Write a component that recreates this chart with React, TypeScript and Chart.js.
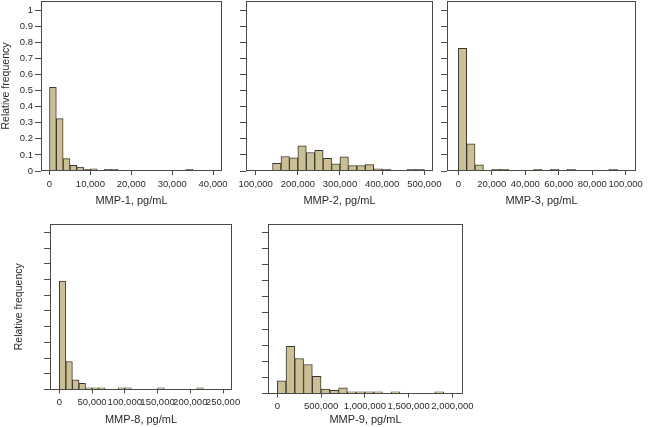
import React, { useEffect, useRef } from "react";
import { Chart, registerables } from "chart.js";

Chart.register(...registerables);

// ---------------- data ----------------
// MMP-1: bin width 10,000 / 6
const mmp1BinStarts = [0, 1666.67, 3333.33, 5000, 6666.67, 8333.33, 10000, 11666.67, 13333.33, 15000, 16666.67, 18333.33, 20000, 21666.67, 23333.33, 25000, 26666.67, 28333.33, 30000, 31666.67, 33333.33];
const mmp1Freq = [0.52, 0.325, 0.077, 0.035, 0.024, 0.006, 0.014, null, 0.005, 0.005, null, null, null, null, null, null, null, null, null, null, 0.005];
const mmp1XTicks = [0, 10000, 20000, 30000, 40000];

// MMP-2: bin width 20,000
const mmp2BinStarts = [140000, 160000, 180000, 200000, 220000, 240000, 260000, 280000, 300000, 320000, 340000, 360000, 380000, 400000, 420000, 440000, 460000, 480000];
const mmp2Freq = [0.047, 0.09, 0.082, 0.157, 0.115, 0.129, 0.078, 0.045, 0.088, 0.034, 0.034, 0.04, 0.013, 0.007, null, null, 0.004, 0.004];
const mmp2XTicks = [100000, 200000, 300000, 400000, 500000];

// MMP-3: bin width 5,000
const mmp3BinStarts = [0, 5000, 10000, 15000, 20000, 25000, 30000, 35000, 40000, 45000, 50000, 55000, 60000, 65000, 70000, 75000, 80000, 85000, 90000];
const mmp3Freq = [0.762, 0.168, 0.039, null, 0.004, 0.004, null, null, null, 0.004, null, 0.004, null, 0.004, null, null, null, null, 0.004];
const mmp3XTicks = [0, 20000, 40000, 60000, 80000, 100000];

// MMP-8: bin width 10,000
const mmp8BinStarts = [0, 10000, 20000, 30000, 40000, 50000, 60000, 70000, 80000, 90000, 100000, 110000, 120000, 130000, 140000, 150000, 160000, 170000, 180000, 190000, 200000, 210000];
const mmp8Freq = [0.69, 0.178, 0.061, 0.04, 0.004, 0.004, 0.004, null, null, 0.004, 0.004, null, null, null, null, 0.004, null, null, null, null, null, 0.004];
const mmp8XTicks = [0, 50000, 100000, 150000, 200000, 250000];

// MMP-9: bin width 100,000
const mmp9BinStarts = [0, 100000, 200000, 300000, 400000, 500000, 600000, 700000, 800000, 900000, 1000000, 1100000, 1200000, 1300000, 1400000, 1500000, 1600000, 1700000, 1800000];
const mmp9Freq = [0.078, 0.292, 0.217, 0.18, 0.106, 0.027, 0.02, 0.035, 0.01, 0.004, 0.004, 0.004, null, 0.009, null, null, null, null, 0.005];
const mmp9XTicks = [0, 500000, 1000000, 1500000, 2000000];

const yTicks = [0, 0.1, 0.2, 0.3, 0.4, 0.5, 0.6, 0.7, 0.8, 0.9, 1];
const yTitleText = "Relative frequency";

// ---------------- layout / style ----------------
const W = 648;
const H = 427;
const FONT = "'Liberation Sans', Arial, Helvetica, sans-serif";
const TEXT = "#2a2a2a";
const LINE = "#4a4a4a";
const BAR_FILL = "#cbbf95";
const BAR_EDGE = "#3a3830";

type PanelCfg = {
  key: string;
  title: string;
  starts: number[];
  freq: (number | null)[];
  xTicks: number[];
  binWidth: number;
  xMin: number;
  xMax: number;
  yMax: number;
  area: { l: number; t: number; r: number; b: number };
  yW: number;
  xH: number;
  yLabels: boolean;
};

const panels: PanelCfg[] = [
  { key: "p1", title: "MMP-1, pg/mL", starts: mmp1BinStarts, freq: mmp1Freq, xTicks: mmp1XTicks, binWidth: 10000 / 6, xMin: -2080, xMax: 42180, yMax: 1.056, area: { l: 41, t: 1, r: 222, b: 171 }, yW: 41, xH: 37, yLabels: true },
  { key: "p2", title: "MMP-2, pg/mL", starts: mmp2BinStarts, freq: mmp2Freq, xTicks: mmp2XTicks, binWidth: 20000, xMin: 77000, xMax: 520640, yMax: 1.056, area: { l: 246, t: 1, r: 433, b: 171 }, yW: 10, xH: 37, yLabels: false },
  { key: "p3", title: "MMP-3, pg/mL", starts: mmp3BinStarts, freq: mmp3Freq, xTicks: mmp3XTicks, binWidth: 5000, xMin: -6750, xMax: 106150, yMax: 1.056, area: { l: 447, t: 1, r: 636, b: 171 }, yW: 10, xH: 37, yLabels: false },
  { key: "p8", title: "MMP-8, pg/mL", starts: mmp8BinStarts, freq: mmp8Freq, xTicks: mmp8XTicks, binWidth: 10000, xMin: -14180, xMax: 263720, yMax: 1.053, area: { l: 50, t: 224, r: 232, b: 389.5 }, yW: 37, xH: 37, yLabels: false },
  { key: "p9", title: "MMP-9, pg/mL", starts: mmp9BinStarts, freq: mmp9Freq, xTicks: mmp9XTicks, binWidth: 100000, xMin: -106000, xMax: 2120870, yMax: 1.052, area: { l: 268, t: 224, r: 463, b: 393.5 }, yW: 10, xH: 33.5, yLabels: false },
];

const framePlugin = {
  id: "frame",
  afterDatasetsDraw(chart: any) {
    const { ctx, chartArea: a } = chart;
    ctx.save();
    ctx.strokeStyle = LINE;
    ctx.lineWidth = 1;
    const l = Math.round(a.left) + 0.5;
    const t = Math.round(a.top) + 0.5;
    const r = Math.round(a.right) - 0.5;
    const b = Math.round(a.bottom) - 0.5;
    ctx.strokeRect(l, t, r - l, b - t);
    ctx.restore();
  },
};

function Panel({ cfg }: { cfg: PanelCfg }) {
  const ref = useRef<HTMLCanvasElement>(null);
  useEffect(() => {
    const showYTitle = cfg.yW > 20;
    const chart = new Chart(ref.current as HTMLCanvasElement, {
      type: "bar",
      data: {
        datasets: [
          {
            data: cfg.starts.map((s, i) => ({ x: s + cfg.binWidth / 2, y: cfg.freq[i] })) as any,
            backgroundColor: BAR_FILL,
            borderColor: BAR_EDGE,
            borderWidth: 1,
            borderSkipped: "start",
            minBarLength: 1.6,
            barPercentage: 1,
            categoryPercentage: 1,
          },
        ],
      },
      options: {
        responsive: false,
        animation: false,
        devicePixelRatio: 1,
        layout: {
          autoPadding: false,
          padding: {
            left: cfg.area.l - cfg.yW,
            top: cfg.area.t,
            right: W - cfg.area.r,
            bottom: H - cfg.area.b - cfg.xH,
          },
        },
        plugins: { legend: { display: false }, tooltip: { enabled: false }, title: { display: false } },
        scales: {
          x: {
            type: "linear",
            offset: false,
            min: cfg.xMin,
            max: cfg.xMax,
            grid: { offset: false, drawOnChartArea: false, drawTicks: true, tickLength: 4, color: LINE, lineWidth: 1 },
            border: { display: false },
            ticks: {
              autoSkip: false,
              maxRotation: 0,
              minRotation: 0,
              padding: 3.5,
              color: TEXT,
              font: { family: FONT, size: 9.5 },
              callback: (v: any) => Number(v).toLocaleString("en-US"),
            },
            afterBuildTicks: (s: any) => {
              s.ticks = cfg.xTicks.map((v) => ({ value: v }));
            },
            title: { display: true, text: cfg.title, color: TEXT, font: { family: FONT, size: 11 }, padding: { top: 0, bottom: 0 } },
            afterFit: (s: any) => {
              s.height = cfg.xH;
              s.paddingLeft = 0;
              s.paddingRight = 0;
              s.paddingTop = 0;
              s.paddingBottom = 0;
            },
          },
          y: {
            type: "linear",
            min: 0,
            max: cfg.yMax,
            grid: { drawOnChartArea: false, drawTicks: true, tickLength: 6, color: LINE, lineWidth: 1 },
            border: { display: false },
            ticks: {
              display: cfg.yLabels,
              padding: 2,
              color: TEXT,
              font: { family: FONT, size: 9.5 },
              callback: (v: any) => String(+Number(v).toFixed(1)),
            },
            afterBuildTicks: (s: any) => {
              s.ticks = yTicks.map((v) => ({ value: v }));
            },
            title: { display: showYTitle, text: yTitleText, color: TEXT, font: { family: FONT, size: 10.5 }, padding: { top: 0, bottom: 0 } },
            afterFit: (s: any) => {
              s.width = cfg.yW;
              s.paddingLeft = 0;
              s.paddingRight = 0;
              s.paddingTop = 0;
              s.paddingBottom = 0;
            },
          },
        },
      } as any,
      plugins: [framePlugin],
    });
    return () => chart.destroy();
  }, [cfg]);
  return (
    <canvas
      ref={ref}
      width={W}
      height={H}
      style={{ position: "absolute", left: 0, top: 0, width: W, height: H }}
    />
  );
}

export default function App() {
  return (
    <div style={{ position: "absolute", left: 0, top: 0, width: W, height: H, background: "#ffffff", overflow: "hidden" }}>
      {panels.map((p) => (
        <Panel key={p.key} cfg={p} />
      ))}
    </div>
  );
}
